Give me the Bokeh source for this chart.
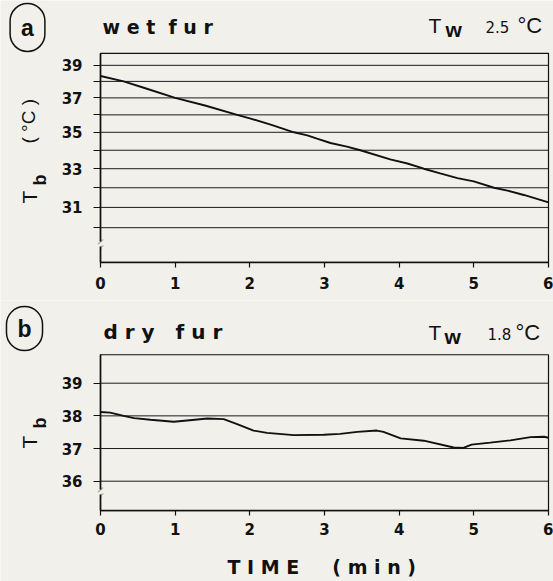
import math
from bokeh.plotting import figure
from bokeh.layouts import column
from bokeh.models import Range1d, FixedTicker, Label, BoxAnnotation, PolyAnnotation
from bokeh.embed import file_html
from bokeh.resources import INLINE

BG = "#f1f0eb"
INK = "#111111"
NB = "\u00a0"

# ---- data ----
x_ticks = [0, 1, 2, 3, 4, 5, 6]

# panel a: wet fur, Tw 2.5 °C
wet_time = [0.0, 0.31, 0.6, 1.0, 1.4, 1.83, 2.0, 2.3, 2.59, 2.77, 2.9, 3.08, 3.3,
            3.48, 3.88, 4.11, 4.33, 4.55, 4.78, 5.0, 5.27, 5.45, 5.67, 6.0]
wet_tb = [38.33, 38.0, 37.58, 37.0, 36.55, 36.0, 35.8, 35.41, 35.0, 34.83, 34.64, 34.4, 34.2,
          34.0, 33.5, 33.28, 33.0, 32.75, 32.5, 32.33, 32.0, 31.85, 31.63, 31.25]
wet_grid = [30, 31, 32, 33, 34, 35, 36, 37, 38, 39]
wet_labels = [31, 33, 35, 37, 39]
wet_axis = (28.361, 39.764)      # bottom / top of the plot box
wet_tw = "2.5"

# panel b: dry fur, Tw 1.8 °C
dry_time = [0.0, 0.13, 0.31, 0.45, 0.67, 0.98, 1.16, 1.43, 1.65, 1.83, 2.05, 2.23, 2.59,
            2.99, 3.21, 3.44, 3.70, 3.79, 4.02, 4.33, 4.73, 4.86, 4.97, 5.22, 5.49, 5.76, 5.94, 6.0]
dry_tb = [38.12, 38.1, 38.0, 37.93, 37.88, 37.82, 37.86, 37.92, 37.9, 37.75, 37.55, 37.48, 37.41,
          37.42, 37.45, 37.51, 37.55, 37.51, 37.31, 37.24, 37.03, 37.02, 37.12, 37.18, 37.25, 37.35, 37.36, 37.33]
dry_grid = [36, 37, 38, 39]
dry_labels = [36, 37, 38, 39]
dry_axis = (35.10, 39.87)
dry_tw = "1.8"

W = 553
H1, H2 = 300, 281
TICK_FONT = "DejaVu Sans"
SHIFT = 0.32   # baseline correction, in em


def make_fig(h, y_range, log):
    p = figure(width=W, height=h, title=None,
               x_range=Range1d(-1.33929, 6.06696), y_range=y_range,
               y_axis_type="log" if log else "linear",
               output_backend="svg", toolbar_location=None, min_border=0)
    p.background_fill_color = BG
    p.border_fill_color = BG
    p.outline_line_color = None
    p.xgrid.visible = False
    p.ygrid.visible = False
    return p


def style(p, grid, labels, bounds, x_standoff):
    # grid lines and plot box drawn from the data lists
    n = len(grid)
    p.segment(x0=[x_ticks[0]] * n, x1=[x_ticks[-1]] * n, y0=grid, y1=grid,
              line_color="#1c1c1c", line_width=1)
    p.quad(left=[x_ticks[0]], right=[x_ticks[-1]], bottom=[bounds[0]], top=[bounds[1]],
           fill_color=None, line_color=INK, line_width=1.2)
    xa = p.xaxis[0]
    ya = p.yaxis[0]
    xa.fixed_location = bounds[0]
    xa.bounds = (x_ticks[0], x_ticks[-1])
    ya.fixed_location = x_ticks[0]
    ya.bounds = bounds
    xa.ticker = FixedTicker(ticks=x_ticks)
    ya.ticker = FixedTicker(ticks=grid)
    ya.major_label_overrides = {v: (str(v) if v in labels else "") for v in grid}
    for ax in (xa, ya):
        ax.axis_line_color = INK
        ax.axis_line_width = 1.6
        ax.major_tick_line_color = INK
        ax.major_tick_line_width = 1.2
        ax.major_tick_in = 0
        ax.minor_tick_line_color = None
        ax.major_label_text_font = TICK_FONT
        ax.major_label_text_font_style = "bold"
        ax.major_label_text_font_size = "15px"
        ax.major_label_text_color = INK
    xa.major_tick_out = 5
    ya.major_tick_out = 7
    xa.major_label_standoff = x_standoff
    ya.major_label_standoff = 11


def lab(p, h, text, px, py, size, bold=False, font="Liberation Sans", rotated=False):
    # px, py: baseline-start position in pixels from the top-left corner of this figure
    if rotated:
        x, y, angle = px - SHIFT * size, h - py, math.pi / 2
    else:
        x, y, angle = px, h - (py - SHIFT * size), 0.0
    p.add_layout(Label(x=x, y=y, x_units="screen", y_units="screen", text=text,
                       text_font=font, text_font_size=f"{size}px",
                       text_font_style="bold" if bold else "normal",
                       text_align="left", text_baseline="alphabetic", angle=angle,
                       text_color=INK))


def circle_label(p, h, text, px, py, pad):
    p.add_layout(Label(x=px, y=h - py, x_units="screen", y_units="screen", text=text,
                       text_font="Liberation Sans", text_font_size="23px",
                       text_font_style="bold", text_align="center",
                       text_baseline="middle", text_color=INK,
                       border_line_color=INK, border_line_width=1.5,
                       border_radius=19, padding=pad,
                       background_fill_color=None))


def tw_block(p, h, base, tx, wx, vx, value, cx):
    lab(p, h, "T", tx, base, 21)
    lab(p, h, "w", wx, base + 4, 21, bold=True)
    lab(p, h, value, vx, base - 1, 15, font="DejaVu Sans")
    lab(p, h, "°C", cx, base, 22)


def axis_break(p, h, y0):
    # y0: top of the gap, pixels from figure top
    p.add_layout(BoxAnnotation(left=97, right=104, bottom=h - (y0 + 5), top=h - y0,
                               left_units="screen", right_units="screen",
                               bottom_units="screen", top_units="screen",
                               fill_color=BG, fill_alpha=1.0, line_color=None))
    strokes = (([102.5, 100.0, 97.5], [y0 - 2, y0 + 0.5, y0 + 2.5]),
               ([103.0, 100.5, 100.0], [y0 + 4, y0 + 5.5, y0 + 8]))
    for xs, ys in strokes:
        ys = [h - v for v in ys]
        p.add_layout(PolyAnnotation(xs=xs + xs[::-1], ys=ys + ys[::-1],
                                    xs_units="screen", ys_units="screen",
                                    fill_alpha=0, line_color=INK, line_width=1.4))


# ---- panel a ----
p1 = make_fig(H1, Range1d(26.671, 43.306), True)
style(p1, wet_grid, wet_labels, wet_axis, 10)
p1.line(wet_time, wet_tb, line_color=INK, line_width=1.9)
circle_label(p1, H1, "a", 27, 27, (11, 11))
lab(p1, H1, "w e t" + NB * 2 + "f u r", 102, 32.5, 19, bold=True, font="DejaVu Sans")
tw_block(p1, H1, 32, 428, 445, 485, wet_tw, 517)
lab(p1, H1, "T", 36, 203, 21, rotated=True)
lab(p1, H1, "b", 45, 185, 18, bold=True, rotated=True)
lab(p1, H1, "(" + NB + "°C" + NB + ")", 34, 143, 19, rotated=True)
axis_break(p1, H1, 241)

# ---- panel b ----
p2 = make_fig(H2, Range1d(32.930, 41.531), False)
style(p2, dry_grid, dry_labels, dry_axis, 7)
p2.line(dry_time, dry_tb, line_color=INK, line_width=1.9)
circle_label(p2, H2, "b", 24, 28, (11, 9))
lab(p2, H2, "d r y" + NB * 3 + "f u r", 103, 38, 20, bold=True, font="DejaVu Sans")
tw_block(p2, H2, 39, 428, 444, 487, dry_tw, 515)
lab(p2, H2, "T", 36, 148, 21, rotated=True)
lab(p2, H2, "b", 45, 128, 18, bold=True, rotated=True)
lab(p2, H2, "T I M E" + NB * 5 + "( m i n )", 227, 273, 19, bold=True, font="DejaVu Sans")
axis_break(p2, H2, 189)

layout = column(p1, p2)
open("out.html", "w").write(file_html(layout, INLINE))
